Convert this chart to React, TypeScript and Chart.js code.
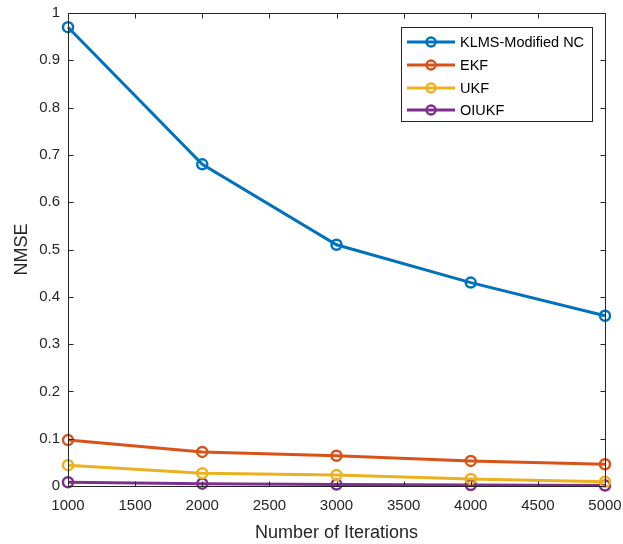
import React, { useEffect, useRef } from "react";
import { Chart, registerables } from "chart.js";

Chart.register(...registerables);

const iterations = [1000, 2000, 3000, 4000, 5000];
const klms = [0.97, 0.68, 0.51, 0.43, 0.36];
const ekf = [0.097, 0.072, 0.064, 0.053, 0.046];
const ukf = [0.044, 0.027, 0.023, 0.015, 0.009];
const oiukf = [0.008, 0.005, 0.003, 0.002, 0.001];
const seriesNames = ["KLMS-Modified NC", "EKF", "UKF", "OIUKF"];
const seriesColors = ["#0072BD", "#D95319", "#EDB120", "#7E2F8E"];
const xTicks = [1000, 1500, 2000, 2500, 3000, 3500, 4000, 4500, 5000];
const yTicks = [0, 0.1, 0.2, 0.3, 0.4, 0.5, 0.6, 0.7, 0.8, 0.9, 1];

const FONT = "'Liberation Sans', Arial, Helvetica, sans-serif";
const TEXT = "#262626";

const boxPlugin = {
  id: "matlabBox",
  afterDraw(chart: any) {
    const { ctx, chartArea: a, scales } = chart;
    ctx.save();
    ctx.strokeStyle = "#262626";
    ctx.lineWidth = 1;
    const L = Math.round(a.left) + 0.5;
    const R = Math.round(a.right) + 0.5;
    const T = Math.round(a.top) + 0.5;
    const B = Math.round(a.bottom) + 0.5;
    ctx.beginPath();
    ctx.rect(L, T, R - L, B - T);
    const tl = 5;
    for (const v of xTicks) {
      const x = Math.round(scales.x.getPixelForValue(v)) + 0.5;
      ctx.moveTo(x, B);
      ctx.lineTo(x, B - tl);
      ctx.moveTo(x, T);
      ctx.lineTo(x, T + tl);
    }
    for (const v of yTicks) {
      const y = Math.round(scales.y.getPixelForValue(v)) + 0.5;
      ctx.moveTo(L, y);
      ctx.lineTo(L + tl, y);
      ctx.moveTo(R, y);
      ctx.lineTo(R - tl, y);
    }
    ctx.stroke();

    const bx = 401.5, by = 27.5, bw = 191, bh = 94;
    ctx.fillStyle = "#ffffff";
    ctx.fillRect(bx, by, bw, bh);
    ctx.strokeStyle = "#262626";
    ctx.lineWidth = 1;
    ctx.strokeRect(bx, by, bw, bh);
    ctx.font = `14.5px ${FONT}`;
    ctx.textBaseline = "middle";
    ctx.textAlign = "left";
    const rows = [42, 65, 88, 110];
    seriesNames.forEach((name, i) => {
      const y = rows[i];
      ctx.strokeStyle = seriesColors[i];
      ctx.lineWidth = 3;
      ctx.beginPath();
      ctx.moveTo(407, y);
      ctx.lineTo(455, y);
      ctx.stroke();
      ctx.lineWidth = 2.5;
      ctx.beginPath();
      ctx.arc(431, y, 4.5, 0, Math.PI * 2);
      ctx.stroke();
      ctx.fillStyle = "#000000";
      ctx.fillText(name, 460, y + 1);
    });
    ctx.restore();
  },
};

export default function App() {
  const ref = useRef<HTMLCanvasElement>(null);
  useEffect(() => {
    if (!ref.current) return;
    const all = [klms, ekf, ukf, oiukf];
    const chart = new Chart(ref.current, {
      type: "line",
      data: {
        datasets: all.map((vals, i) => ({
          label: seriesNames[i],
          data: iterations.map((x, j) => ({ x, y: vals[j] })),
          borderColor: seriesColors[i],
          backgroundColor: "rgba(0,0,0,0)",
          borderWidth: 3,
          pointRadius: 5,
          pointBorderWidth: 2.5,
          pointBorderColor: seriesColors[i],
          pointBackgroundColor: "rgba(0,0,0,0)",
          tension: 0,
          clip: 8,
        })),
      },
      options: {
        responsive: false,
        animation: false,
        events: [],
        layout: { padding: { top: 13, right: 18, left: 0, bottom: 0 } },
        plugins: { legend: { display: false }, tooltip: { enabled: false } },
        scales: {
          x: {
            type: "linear",
            min: 1000,
            max: 5000,
            grid: { display: false, drawTicks: false },
            border: { display: false },
            afterBuildTicks: (s: any) => {
              s.ticks = xTicks.map((v) => ({ value: v }));
            },
            afterFit: (s: any) => {
              s.height = 58;
              s.paddingLeft = 0;
              s.paddingRight = 0;
            },
            ticks: {
              color: TEXT,
              font: { family: FONT, size: 15 },
              padding: 11,
              maxRotation: 0,
              autoSkip: false,
              callback: (v: any) => String(v),
            },
            title: {
              display: true,
              text: "Number of Iterations",
              color: TEXT,
              font: { family: FONT, size: 18 },
              padding: { top: 4, bottom: 0 },
            },
          },
          y: {
            type: "linear",
            min: 0,
            max: 1,
            grid: { display: false, drawTicks: false },
            border: { display: false },
            afterBuildTicks: (s: any) => {
              s.ticks = yTicks.map((v) => ({ value: v }));
            },
            afterFit: (s: any) => {
              s.width = 68;
              s.paddingTop = 0;
              s.paddingBottom = 0;
            },
            ticks: {
              color: TEXT,
              font: { family: FONT, size: 15 },
              padding: 8,
              autoSkip: false,
              callback: (v: any) => String(Math.round(v * 10) / 10),
            },
            title: {
              display: true,
              text: "NMSE",
              color: TEXT,
              font: { family: FONT, size: 18 },
              padding: { top: 11, bottom: 0 },
            },
          },
        },
      },
      plugins: [boxPlugin],
    });
    return () => chart.destroy();
  }, []);
  return (
    <div style={{ position: "absolute", left: 0, top: 0, width: 623, height: 544, background: "#fff" }}>
      <canvas ref={ref} width={623} height={544} style={{ display: "block" }} />
    </div>
  );
}
